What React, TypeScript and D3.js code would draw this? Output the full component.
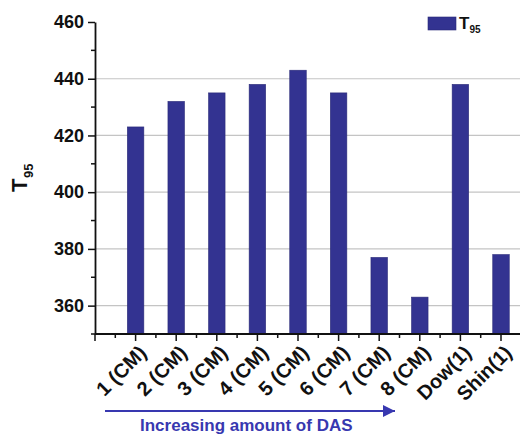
import { useEffect, useRef } from 'react';
import * as d3 from 'd3';

const CATEGORIES = ['1 (CM)', '2 (CM)', '3 (CM)', '4 (CM)', '5 (CM)', '6 (CM)', '7 (CM)', '8 (CM)', 'Dow(1)', 'Shin(1)'];
const T95_VALUES = [423, 432, 435, 438, 443, 435, 377, 363, 438, 378];
const Y_TICKS = [360, 380, 400, 420, 440, 460];
const Y_GRID = [360, 380, 400, 420, 440];
const Y_MINOR = [350, 370, 390, 410, 430, 450];

const WIDTH = 520;
const HEIGHT = 436;
const BAR_COLOR = '#333391';
const ARROW_COLOR = '#3838b0';
const FONT = '"Liberation Sans", Arial, sans-serif';

export default function App() {
  const svgRef = useRef<SVGSVGElement>(null);

  useEffect(() => {
    if (!svgRef.current) return;
    const svg = d3.select(svgRef.current);
    svg.selectAll('*').remove();

    const left = 95;
    const top = 22;
    const bottom = 334;
    const step = 40.6;

    // slot 0 is the axis origin, bars sit on slots 1..10
    const x = d3.scaleLinear().domain([0, CATEGORIES.length + 1]).range([left, left + step * (CATEGORIES.length + 1)]);
    const y = d3.scaleLinear().domain([350, 460]).range([bottom, top]);
    const barW = 16.5;

    // Grid
    svg.append('g')
      .selectAll('line')
      .data(Y_GRID)
      .join('line')
      .attr('x1', left).attr('x2', WIDTH)
      .attr('y1', d => y(d)).attr('y2', d => y(d))
      .attr('stroke', '#c4c4c4')
      .attr('stroke-width', 1.2);

    // Bars
    svg.append('g')
      .selectAll('rect')
      .data(T95_VALUES)
      .join('rect')
      .attr('x', (_, i) => x(i + 1) - barW / 2)
      .attr('y', d => y(d))
      .attr('width', barW)
      .attr('height', d => y(350) - y(d))
      .attr('fill', BAR_COLOR)
      .attr('stroke', '#2a2a78')
      .attr('stroke-width', 0.6);

    // Y axis
    const yAxis = svg.append('g').attr('transform', `translate(${left},0)`);
    yAxis.call(d3.axisLeft(y).tickValues(Y_TICKS).tickSize(7).tickSizeOuter(0).tickPadding(4))
      .selectAll('text')
      .attr('fill', '#111')
      .attr('font-size', '18px')
      .attr('font-weight', 'bold')
      .attr('font-family', FONT);
    yAxis.selectAll('.tick line').attr('stroke', '#111').attr('stroke-width', 1.5);
    yAxis.select('.domain').attr('stroke', '#111').attr('stroke-width', 1.8);
    yAxis.append('g')
      .selectAll('line')
      .data(Y_MINOR)
      .join('line')
      .attr('x1', -4).attr('x2', 0)
      .attr('y1', d => y(d)).attr('y2', d => y(d))
      .attr('stroke', '#111')
      .attr('stroke-width', 1.5);

    // X axis
    const majors = d3.range(0, CATEGORIES.length + 2);
    const minors = d3.range(0, CATEGORIES.length + 1).map(d => d + 0.5);
    const xAxis = svg.append('g').attr('transform', `translate(0,${bottom})`);
    xAxis.append('line')
      .attr('x1', left).attr('x2', WIDTH)
      .attr('stroke', '#111').attr('stroke-width', 1.8);
    xAxis.selectAll('line.major')
      .data(majors)
      .join('line')
      .attr('class', 'major')
      .attr('x1', d => x(d)).attr('x2', d => x(d))
      .attr('y1', 0).attr('y2', 7)
      .attr('stroke', '#111').attr('stroke-width', 1.5);
    xAxis.selectAll('line.minor')
      .data(minors)
      .join('line')
      .attr('class', 'minor')
      .attr('x1', d => x(d)).attr('x2', d => x(d))
      .attr('y1', 0).attr('y2', 4)
      .attr('stroke', '#111').attr('stroke-width', 1.5);

    // Rotated category labels
    svg.append('g')
      .selectAll('text')
      .data(CATEGORIES)
      .join('text')
      .attr('transform', (_, i) => `translate(${x(i + 1) + 12},${bottom + 20}) rotate(-45)`)
      .attr('text-anchor', 'end')
      .attr('font-size', '20px')
      .attr('font-weight', 'bold')
      .attr('font-family', FONT)
      .attr('fill', '#111')
      .text(d => d);

    // Y title T95, reading bottom to top
    const yTitle = svg.append('g')
      .attr('transform', 'translate(27,178) rotate(-90)')
      .attr('font-family', FONT)
      .attr('font-weight', 'bold')
      .attr('fill', '#111');
    yTitle.append('text')
      .attr('x', -14).attr('y', 0)
      .attr('font-size', '22px')
      .text('T');
    yTitle.append('text')
      .attr('x', 0).attr('y', 6)
      .attr('font-size', '13px')
      .text('95');

    // Legend
    svg.append('rect')
      .attr('x', 428).attr('y', 17)
      .attr('width', 28).attr('height', 13)
      .attr('fill', BAR_COLOR)
      .attr('stroke', '#2a2a78')
      .attr('stroke-width', 0.6);
    const legendText = svg.append('text')
      .attr('x', 459).attr('y', 29)
      .attr('font-family', FONT)
      .attr('font-weight', 'bold')
      .attr('fill', '#111');
    legendText.append('tspan').attr('font-size', '17px').text('T');
    legendText.append('tspan').attr('font-size', '10px').attr('dy', 4).text('95');

    // Arrow "Increasing amount of DAS"
    svg.append('defs').append('marker')
      .attr('id', 'arrowhead')
      .attr('viewBox', '0 0 10 10')
      .attr('refX', 10).attr('refY', 5)
      .attr('markerWidth', 15).attr('markerHeight', 12)
      .attr('markerUnits', 'userSpaceOnUse')
      .attr('orient', 'auto')
      .append('path')
      .attr('d', 'M0,0 L10,5 L0,10 Z')
      .attr('fill', ARROW_COLOR);
    svg.append('line')
      .attr('x1', 105).attr('x2', 395)
      .attr('y1', 411).attr('y2', 411)
      .attr('stroke', ARROW_COLOR)
      .attr('stroke-width', 2)
      .attr('marker-end', 'url(#arrowhead)');
    svg.append('text')
      .attr('x', 140).attr('y', 431)
      .attr('font-size', '17px')
      .attr('font-weight', 'bold')
      .attr('font-family', FONT)
      .attr('fill', ARROW_COLOR)
      .text('Increasing amount of DAS');
  }, []);

  return (
    <svg
      ref={svgRef}
      width={WIDTH}
      height={HEIGHT}
      style={{ position: 'absolute', left: 0, top: 0, background: '#fff' }}
    />
  );
}
